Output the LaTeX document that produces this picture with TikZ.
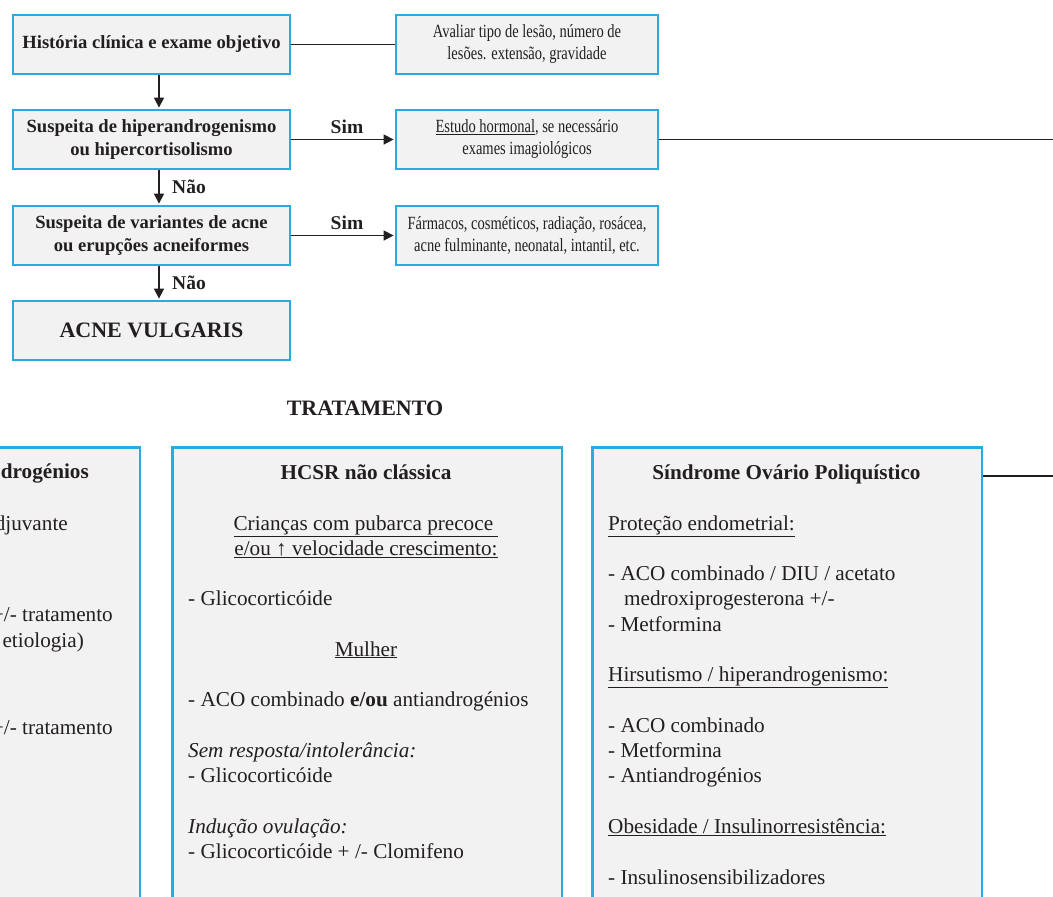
\documentclass[tikz,border=0pt]{standalone}
\usepackage{fontspec}
\setmainfont{Liberation Serif}
\newfontfamily\narrowserif[FakeStretch=0.78]{Liberation Serif}
\usetikzlibrary{arrows.meta}

\definecolor{boxblue}{HTML}{29ABE2}
\definecolor{boxfill}{HTML}{F2F2F2}
\definecolor{ink}{HTML}{231F20}

\begin{document}
\begin{tikzpicture}[x=1pt,y=-1pt,
  box/.style={draw=boxblue, fill=boxfill, line width=2.4pt, inner sep=0pt, text=ink, align=center},
  qbox/.style={box, minimum width=277pt, minimum height=59pt, font=\fontsize{18.6}{23}\selectfont\bfseries},
  abox/.style={box, minimum width=262pt, minimum height=59pt, font=\narrowserif\fontsize{18.6}{22}\selectfont},
  bigbox/.style={box, minimum width=389.6pt, minimum height=500pt, anchor=north west},
  body/.style={text=ink, inner sep=0pt, anchor=base west, font=\fontsize{21.2}{25.3}\selectfont},
  ctr/.style={body, anchor=base},
  head/.style={ctr, font=\fontsize{21.2}{25.3}\selectfont\bfseries},
  rbody/.style={body, anchor=base east},
  rhead/.style={rbody, font=\fontsize{21.2}{25.3}\selectfont\bfseries},
  flow/.style={draw=ink, line width=1.6pt, shorten >=1.2pt, -{Triangle[length=10pt,width=10pt]}},
  link/.style={draw=ink, line width=1.6pt},
  tag/.style={text=ink, inner sep=0pt, anchor=base, font=\fontsize{19.5}{22}\selectfont\bfseries}
]
\useasboundingbox (0,0) rectangle (1053,897);

% diagnostic path
\node[qbox] (hist) at (151.5,44.5) {História clínica e exame objetivo};
\node[qbox] (hiper) at (151.5,139.5) {Suspeita de hiperandrogenismo\\ou hipercortisolismo};
\node[qbox] (vari) at (151.5,235.5) {Suspeita de variantes de acne\\ou erupções acneiformes};
\node[qbox, font=\fontsize{22}{26}\selectfont\bfseries] (acne) at (151.5,330.5) {ACNE VULGARIS};

\node[abox] (aval) at (527,44.5) {Avaliar tipo de lesão, número de\\lesões. extensão, gravidade};
\node[abox] (estudo) at (527,139.5) {\underline{Estudo hormonal}, se necessário\\exames imagiológicos};
\node[abox] (farm) at (527,235.5) {Fármacos, cosméticos, radiação, rosácea,\\acne fulminante, neonatal, intantil, etc.};

\coordinate (spine) at (159,0);
\coordinate (estudoout) at (1053,139.5);

\draw[link] (hist) -- (aval);
\draw[flow] (hist.south -| spine) -- (hiper.north -| spine);
\draw[flow] (hiper.south -| spine) -- (vari.north -| spine);
\draw[flow] (vari.south -| spine) -- (acne.north -| spine);
\draw[flow] (hiper) -- (estudo);
\draw[flow] (vari) -- (farm);
\draw[link] (estudo.east) -- (estudoout);

\node[tag] (sim1) at (347,133) {Sim};
\node[tag] (sim2) at (347,229) {Sim};
\node[tag, anchor=base west] (nao1) at (172,193) {Não};
\node[tag, anchor=base west] (nao2) at (172,289) {Não};

% treatment
\node[tag, font=\fontsize{22}{26}\selectfont\bfseries] (trat) at (365,415) {TRATAMENTO};

\node[bigbox] (andro) at (-250.8,446.2) {};
\node[bigbox] (hcsr) at (171.2,446.2) {};
\node[bigbox] (sop) at (591.2,446.2) {};

\coordinate (sopout) at (1053,476);
\draw[link] (sopout -| sop.east) -- (sopout);

% first column, only its right part lies on the page
\node[rhead] (a0) at (89,478) {drogénios};
\node[rbody] (a1) at (68,530) {djuvante};
\node[rbody] (a2) at (113,621) {+/- tratamento};
\node[rbody] (a3) at (84,647) {etiologia)};
\node[rbody] (a4) at (113,734) {+/- tratamento};

% HCSR
\node[head] (h0) at (366,479) {HCSR não clássica};
\node[ctr] (h1) at (366,530) {\underline{Crianças com pubarca precoce\ }};
\node[ctr] (h2) at (366,555) {\underline{e/ou ↑ velocidade crescimento:}};
\node[body] (h3) at (188,605.5) {- Glicocorticóide};
\node[ctr] (h4) at (366,656) {\underline{Mulher}};
\node[body] (h5) at (188,706.5) {- ACO combinado \textbf{e/ou} antiandrogénios};
\node[body] (h6) at (188,757) {\textit{Sem resposta/intolerância:}};
\node[body] (h7) at (188,782.5) {- Glicocorticóide};
\node[body] (h8) at (188,833) {\textit{Indução ovulação:}};
\node[body] (h9) at (188,858.5) {- Glicocorticóide + /- Clomifeno};

% SOP
\node[head] (s0) at (786.5,479) {Síndrome Ovário Poliquístico};
\node[body] (s1) at (608,530) {\underline{Proteção endometrial:}};
\node[body] (s2) at (608,580.5) {- ACO combinado / DIU / acetato};
\node[body] (s3) at (624,605.5) {medroxiprogesterona +/-};
\node[body] (s4) at (608,631) {- Metformina};
\node[body] (s5) at (608,681.5) {\underline{Hirsutismo / hiperandrogenismo:}};
\node[body] (s6) at (608,732) {- ACO combinado};
\node[body] (s7) at (608,757.5) {- Metformina};
\node[body] (s8) at (608,782.5) {- Antiandrogénios};
\node[body] (s9) at (608,833) {\underline{Obesidade / Insulinorresistência:}};
\node[body] (s10) at (608,884) {- Insulinosensibilizadores};
\end{tikzpicture}
\end{document}
